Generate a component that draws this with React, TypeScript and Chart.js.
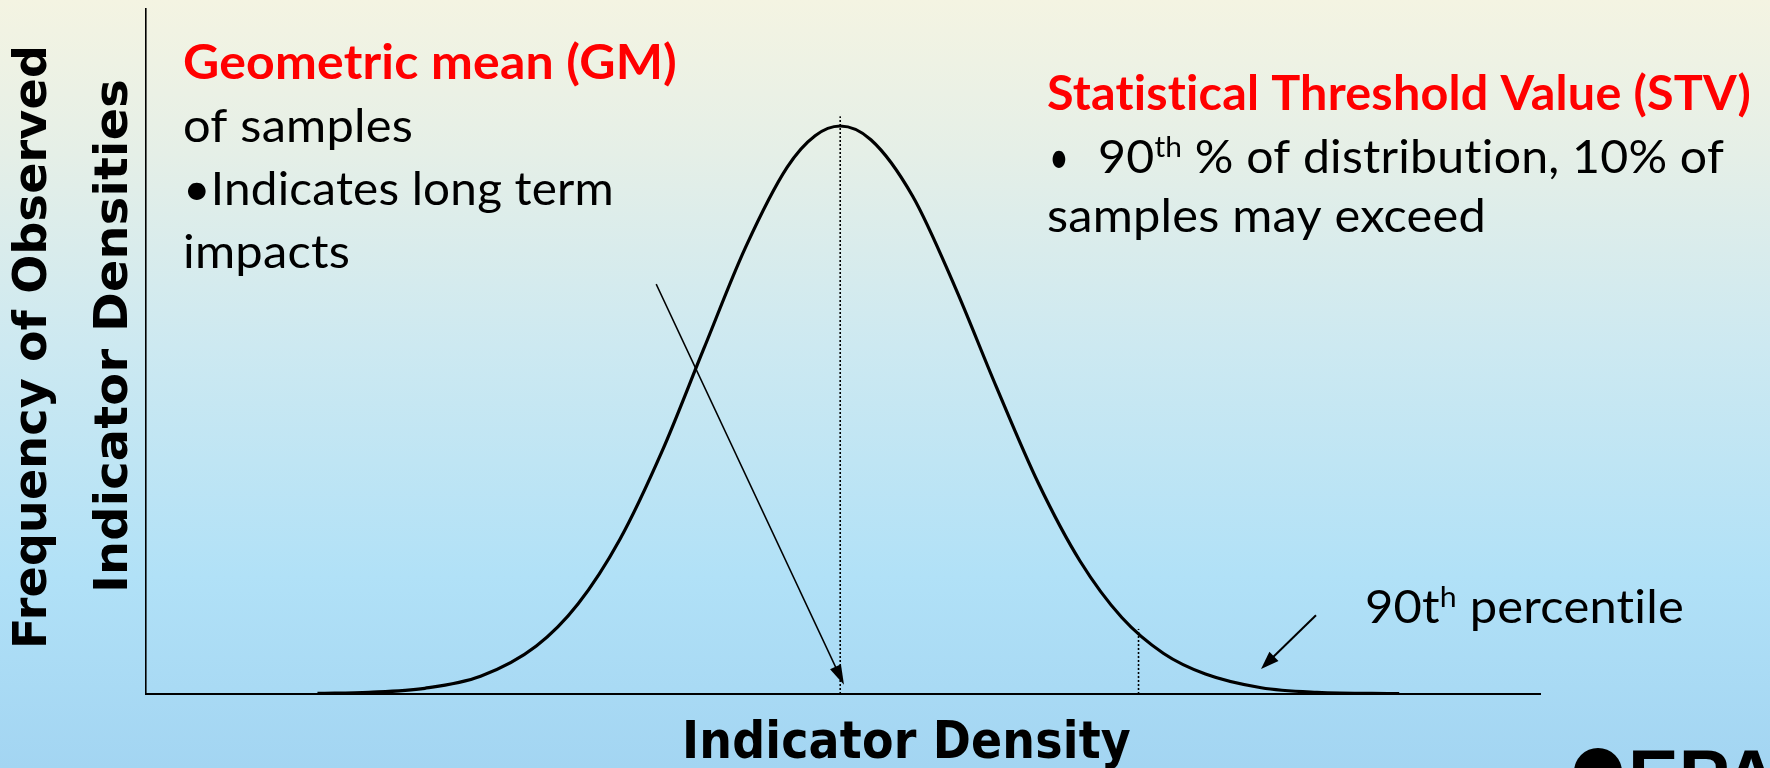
import React, { useEffect, useRef } from "react";
import { Chart, registerables } from "chart.js";

Chart.register(...registerables);

// ---- Data (x in "indicator density" units 0..100, y in relative frequency) ----
const curveX = [12.3, 16, 20, 24, 28, 31, 34, 37, 40, 43, 46, 48, 49.8, 52, 55, 58, 61, 64, 67, 70, 73, 76, 80, 84, 89.9];
const curveY = [0.001, 0.003, 0.01, 0.031, 0.084, 0.158, 0.271, 0.424, 0.604, 0.782, 0.923, 0.978, 0.995, 0.971, 0.872, 0.715, 0.538, 0.37, 0.233, 0.134, 0.071, 0.035, 0.011, 0.003, 0.0005];

const meanLineX = [49.8, 49.8];
const meanLineY = [0, 1.012];
const pctLineX = [71.2, 71.2];
const pctLineY = [0, 0.114];

// arrows: [fromX, fromY, toX, toY] in data units
const gmArrow = [36.6, 0.718, 50.07, 0.016];
const stvArrow = [83.93, 0.138, 79.99, 0.044];

const xRange = [0, 100];
const yRange = [0, 1.2];

const yTitleLines = ["Frequency of Observed", "Indicator Densities"];
const xTitle = "Indicator Density";
const gmHeading = "Geometric mean (GM)";
const gmLines = ["of samples", "\u2022Indicates long term", "impacts"];
const stvHeading = "Statistical Threshold Value (STV)";

type Part = { t: string; sup?: boolean };

function drawRun(
  ctx: CanvasRenderingContext2D,
  parts: Part[],
  x: number,
  y: number,
  width: number,
  size: number,
  family: string,
  weight: string,
  color: string
) {
  ctx.save();
  ctx.fillStyle = color;
  ctx.textAlign = "left";
  ctx.textBaseline = "alphabetic";
  try {
    (ctx as any).letterSpacing = "0.2px";
  } catch (e) {}
  const font = (s: number) => `${weight} ${s}px ${family}`;
  let natural = 0;
  for (const p of parts) {
    ctx.font = font(p.sup ? size * 0.62 : size);
    natural += ctx.measureText(p.t).width;
  }
  const sx = width / natural;
  ctx.translate(x, y);
  ctx.scale(sx, 1);
  let cx = 0;
  for (const p of parts) {
    const s = p.sup ? size * 0.62 : size;
    ctx.font = font(s);
    ctx.fillText(p.t, cx, p.sup ? -size * 0.34 : 0);
    cx += ctx.measureText(p.t).width;
  }
  ctx.restore();
}

function drawArrow(ctx: CanvasRenderingContext2D, x1: number, y1: number, x2: number, y2: number, lw: number, headLen: number, headW: number) {
  const ang = Math.atan2(y2 - y1, x2 - x1);
  ctx.save();
  ctx.strokeStyle = "#000";
  ctx.fillStyle = "#000";
  ctx.lineWidth = lw;
  ctx.beginPath();
  ctx.moveTo(x1, y1);
  ctx.lineTo(x2 - Math.cos(ang) * headLen * 0.8, y2 - Math.sin(ang) * headLen * 0.8);
  ctx.stroke();
  ctx.translate(x2, y2);
  ctx.rotate(ang);
  ctx.beginPath();
  ctx.moveTo(0, 0);
  ctx.lineTo(-headLen, -headW / 2);
  ctx.lineTo(-headLen, headW / 2);
  ctx.closePath();
  ctx.fill();
  ctx.restore();
}

const backgroundPlugin = {
  id: "bg",
  beforeDraw(chart: any) {
    const { ctx, width, height } = chart;
    ctx.save();
    const g = ctx.createLinearGradient(0, 0, 0, height);
    g.addColorStop(0, "#f4f4e2");
    g.addColorStop(0.2, "#e5efe7");
    g.addColorStop(0.45, "#cde9f1");
    g.addColorStop(0.75, "#b1e1f7");
    g.addColorStop(1, "#a3d5f2");
    ctx.fillStyle = g;
    ctx.fillRect(0, 0, width, height);
    ctx.restore();
  },
};

const annotationPlugin = {
  id: "annotations",
  afterDatasetsDraw(chart: any) {
    const { ctx } = chart;
    const xs = chart.scales.x;
    const ys = chart.scales.y;
    const a1 = gmArrow;
    drawArrow(ctx, xs.getPixelForValue(a1[0]), ys.getPixelForValue(a1[1]), xs.getPixelForValue(a1[2]), ys.getPixelForValue(a1[3]), 1.5, 20, 12);
    const a2 = stvArrow;
    drawArrow(ctx, xs.getPixelForValue(a2[0]), ys.getPixelForValue(a2[1]), xs.getPixelForValue(a2[2]), ys.getPixelForValue(a2[3]), 2, 18, 13);
  },
  afterDraw(chart: any) {
    const { ctx } = chart;
    const sans = "Lato, 'Open Sans', sans-serif";
    const comic = "'DejaVu Sans', sans-serif";

    // Y axis title (rotated)
    const yTitleSpec = [
      { cx: 46, cy: 347, w: 604 },
      { cx: 127, cy: 336, w: 514 },
    ];
    yTitleLines.forEach((line, i) => {
      const s = yTitleSpec[i];
      ctx.save();
      ctx.translate(s.cx, s.cy);
      ctx.rotate(-Math.PI / 2);
      drawRun(ctx, [{ t: line }], -s.w / 2, 0, s.w, 46, comic, "bold", "#000");
      ctx.restore();
    });

    // X axis title
    drawRun(ctx, [{ t: xTitle }], 682, 758, 449, 52, comic, "bold", "#000");

    // GM block
    drawRun(ctx, [{ t: gmHeading }], 183, 79, 494, 47, sans, "bold", "#ff0000");
    const gmSpec = [
      { b: 142, w: 230 },
      { b: 205, w: 431 },
      { b: 268, w: 167 },
    ];
    gmLines.forEach((l, i) => drawRun(ctx, [{ t: l }], 183, gmSpec[i].b, gmSpec[i].w, 47, sans, "normal", "#000"));

    // STV block
    drawRun(ctx, [{ t: stvHeading }], 1047, 110, 704, 47, sans, "bold", "#ff0000");
    drawRun(ctx, [{ t: "\u2022" }], 1049, 173, 20, 47, sans, "normal", "#000");
    drawRun(ctx, [{ t: "90" }, { t: "th", sup: true }, { t: " % of distribution, 10% of" }], 1098, 173, 626, 47, sans, "normal", "#000");
    drawRun(ctx, [{ t: "samples may exceed" }], 1047, 232, 439, 47, sans, "normal", "#000");

    // 90th percentile label
    drawRun(ctx, [{ t: "90t" }, { t: "h", sup: true }, { t: " percentile" }], 1365, 623, 319, 47, sans, "normal", "#000");

    // partial EPA logo at the bottom right
    ctx.save();
    ctx.fillStyle = "#000";
    ctx.beginPath();
    ctx.arc(1598, 772, 24, 0, Math.PI * 2);
    ctx.fill();
    ctx.font = "bold 76px 'Liberation Sans', Arial, sans-serif";
    ctx.textBaseline = "alphabetic";
    ctx.fillText("EPA", 1628, 803);
    ctx.restore();
  },
};

export default function App() {
  const canvasRef = useRef<HTMLCanvasElement | null>(null);

  useEffect(() => {
    document.body.style.margin = "0";
    document.body.style.overflow = "hidden";
    const canvas = canvasRef.current;
    if (!canvas) return;

    const toPts = (xs: number[], ys: number[]) => xs.map((x, i) => ({ x, y: ys[i] }));

    const chart = new Chart(canvas, {
      type: "scatter",
      data: {
        datasets: [
          {
            data: toPts(curveX, curveY),
            showLine: true,
            borderColor: "#000",
            borderWidth: 3.2,
            pointRadius: 0,
            cubicInterpolationMode: "monotone",
            fill: false,
          } as any,
          {
            data: toPts(meanLineX, meanLineY),
            showLine: true,
            borderColor: "#000",
            borderWidth: 1.6,
            borderDash: [2, 2],
            pointRadius: 0,
          } as any,
          {
            data: toPts(pctLineX, pctLineY),
            showLine: true,
            borderColor: "#000",
            borderWidth: 1.6,
            borderDash: [2, 2],
            pointRadius: 0,
          } as any,
        ],
      },
      options: {
        animation: false,
        responsive: true,
        maintainAspectRatio: false,
        layout: { padding: { left: 146, right: 230, top: 9, bottom: 74 } },
        plugins: { legend: { display: false }, tooltip: { enabled: false } },
        events: [],
        scales: {
          x: {
            type: "linear",
            min: xRange[0],
            max: xRange[1],
            grid: { display: false },
            ticks: { display: false },
            border: { display: true, color: "#000", width: 2 },
            afterFit: (s: any) => {
              s.height = 0;
            },
          },
          y: {
            type: "linear",
            min: yRange[0],
            max: yRange[1],
            grid: { display: false },
            ticks: { display: false },
            border: { display: true, color: "#000", width: 1.6 },
            afterFit: (s: any) => {
              s.width = 0;
            },
          },
        },
      } as any,
      plugins: [backgroundPlugin, annotationPlugin],
    });

    return () => chart.destroy();
  }, []);

  return (
    <div style={{ width: 1770, height: 768, position: "relative" }}>
      <canvas ref={canvasRef} />
    </div>
  );
}
